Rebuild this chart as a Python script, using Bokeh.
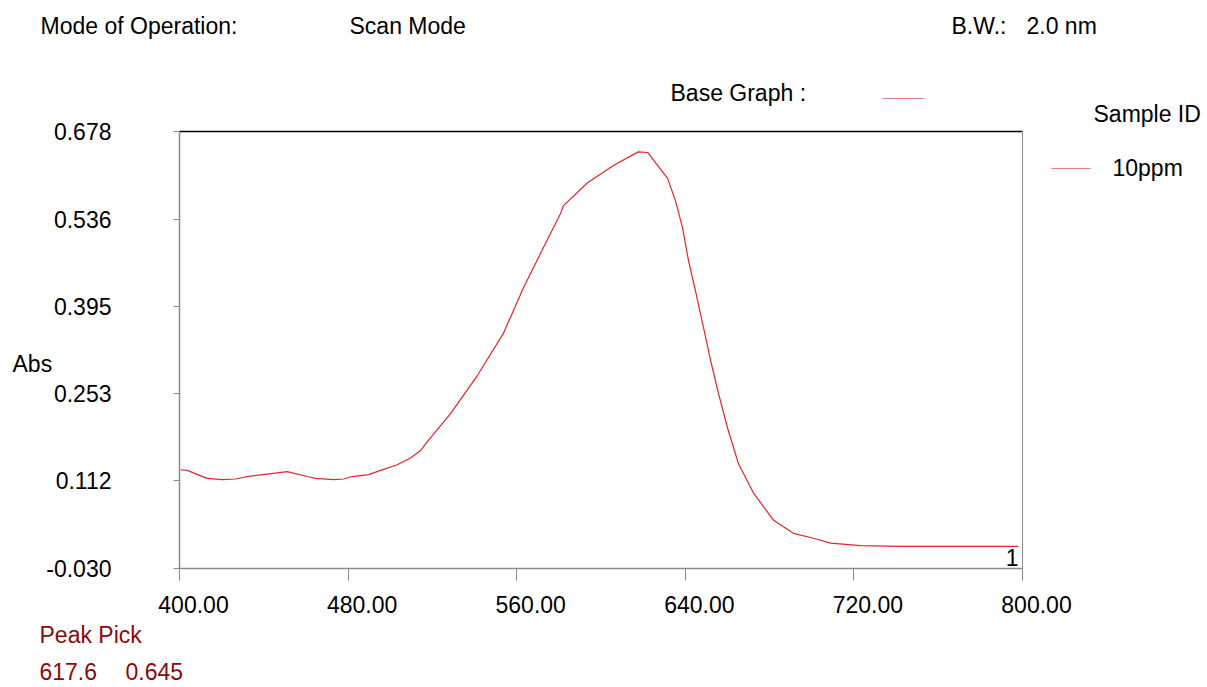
from bokeh.plotting import figure
from bokeh.models import (Range1d, FixedTicker, LinearAxis, NumeralTickFormatter)
from bokeh.core.properties import value
from bokeh.embed import file_html
from bokeh.resources import INLINE

# ---------------- data ----------------
wavelength = [400.5, 403.7, 413.1, 420.3, 426.6, 432.1, 441.6, 451.1, 460.6, 464.5,
              473.2, 478.0, 481.9, 489.8, 495.4, 503.3, 509.6, 514.4, 517.5, 528.6,
              541.4, 553.7, 563.2, 572.7, 580.8, 582.2, 593.6, 605.9, 617.6, 622.1,
              631.6, 635.3, 638.7, 641.5, 644.8, 648.2, 652.0, 655.8, 660.0, 665.2,
              672.4, 681.9, 691.3, 700.8, 708.9, 723.1, 742.0, 770.0, 798.0]
absorbance = [0.130, 0.129, 0.116, 0.114, 0.115, 0.119, 0.123, 0.127, 0.119, 0.116,
              0.114, 0.115, 0.119, 0.122, 0.129, 0.138, 0.149, 0.161, 0.175, 0.221,
              0.283, 0.351, 0.425, 0.490, 0.545, 0.558, 0.595, 0.623, 0.645, 0.644,
              0.602, 0.566, 0.522, 0.469, 0.420, 0.367, 0.307, 0.253, 0.198, 0.140,
              0.092, 0.048, 0.027, 0.019, 0.011, 0.007, 0.006, 0.006, 0.006]

x_ticks = [400, 480, 560, 640, 720, 800]
x_tick_labels = ["400.00", "480.00", "560.00", "640.00", "720.00", "800.00"]
y_ticks = [-0.030, 0.112, 0.253, 0.395, 0.536, 0.678]
y_tick_labels = ["-0.030", "0.112", "0.253", "0.395", "0.536", "0.678"]

sample_id = "10ppm"
peak_wavelength = "617.6"
peak_abs = "0.645"
mode_text = "Scan Mode"
bw_text = "2.0 nm"

# ---------------- layout ----------------
W, H = 1207, 687
L, R, T, B = 179, 1022, 131, 568
X0, X1 = 400, 800
Y0, Y1 = -0.030, 0.678
FONT = "Liberation Sans"
FS = "23px"
CURVE = "#e2262c"
LEG = "#ea7f84"
DARKRED = "#8b0a0a"
GRAY = "#8a8a8a"


def X(px):
    return X0 + (px - L) * (X1 - X0) / (R - L)


def Y(py):
    return Y0 + (B - py) * (Y1 - Y0) / (B - T)


p = figure(width=W, height=H, x_range=Range1d(X0, X1), y_range=Range1d(Y0, Y1),
           output_backend="svg", toolbar_location=None,
           min_border_left=L, min_border_right=W - R,
           min_border_top=T, min_border_bottom=H - B)
p.grid.visible = False
p.outline_line_color = None
p.background_fill_color = "white"
p.border_fill_color = "white"

# x axis
xa = p.xaxis[0]
xa.ticker = FixedTicker(ticks=x_ticks)
xa.axis_line_color = GRAY
xa.axis_line_width = 1.5
xa.major_tick_line_color = GRAY
xa.major_tick_in = 0
xa.major_tick_out = 12
xa.minor_tick_line_color = None
xa.major_label_text_color = None
xa.major_label_text_font_size = "1px"

# y axis
ya = p.yaxis[0]
ya.ticker = FixedTicker(ticks=y_ticks)
ya.formatter = NumeralTickFormatter(format="0.000")
ya.major_label_overrides = dict(zip(y_ticks, y_tick_labels))
ya.axis_line_color = GRAY
ya.axis_line_width = 1.5
ya.major_tick_line_color = GRAY
ya.major_tick_in = 0
ya.major_tick_out = 6
ya.minor_tick_line_color = None
ya.major_label_text_font = FONT
ya.major_label_text_font_size = FS
ya.major_label_text_color = "black"
ya.major_label_standoff = 62

# top / right frame lines
top = LinearAxis(ticker=FixedTicker(ticks=[]), axis_line_color="black", axis_line_width=1.5,
                 major_tick_line_color=None, minor_tick_line_color=None,
                 major_label_text_font_size="1px", major_label_text_color=None)
p.add_layout(top, "above")
right = LinearAxis(ticker=FixedTicker(ticks=[]), axis_line_color=GRAY, axis_line_width=1,
                   major_tick_line_color=None, minor_tick_line_color=None,
                   major_label_text_font_size="1px", major_label_text_color=None)
p.add_layout(right, "right")

# curve
p.line(wavelength, absorbance, line_color=CURVE, line_width=1.2)

# x tick labels (overlay level so they are not clipped to the frame)
p.text(x=x_ticks, y=[Y(604)] * len(x_ticks), text=x_tick_labels, x_offset=14,
       text_align="center", text_baseline="middle",
       text_font=value(FONT), text_font_size=value(FS), text_color="black",
       level="overlay")


def lab(px, py, text, color="black", align="left"):
    p.text(x=[X(px)], y=[Y(py)], text=[text], text_font=value(FONT),
           text_font_size=value(FS), text_color=color, text_align=align,
           text_baseline="middle", level="overlay")


lab(40, 25, "Mode of Operation:")
lab(349, 25, mode_text)
lab(951, 25, "B.W.:")
lab(1026, 25, bw_text)
lab(670, 92, "Base Graph :")
lab(1093, 113, "Sample ID")
lab(1112, 167, sample_id)
lab(12, 363, "Abs")
lab(39, 634, "Peak Pick", DARKRED)
lab(39, 671, peak_wavelength, DARKRED)
lab(125, 671, peak_abs, DARKRED)
lab(1018, 557, "1", align="right")

# legend line segments
p.segment(x0=[X(882), X(1051)], y0=[Y(98), Y(168)], x1=[X(924), X(1090)], y1=[Y(98), Y(168)],
          line_color=LEG, line_width=1.2, level="overlay")

open("out.html", "w").write(file_html(p, INLINE))
